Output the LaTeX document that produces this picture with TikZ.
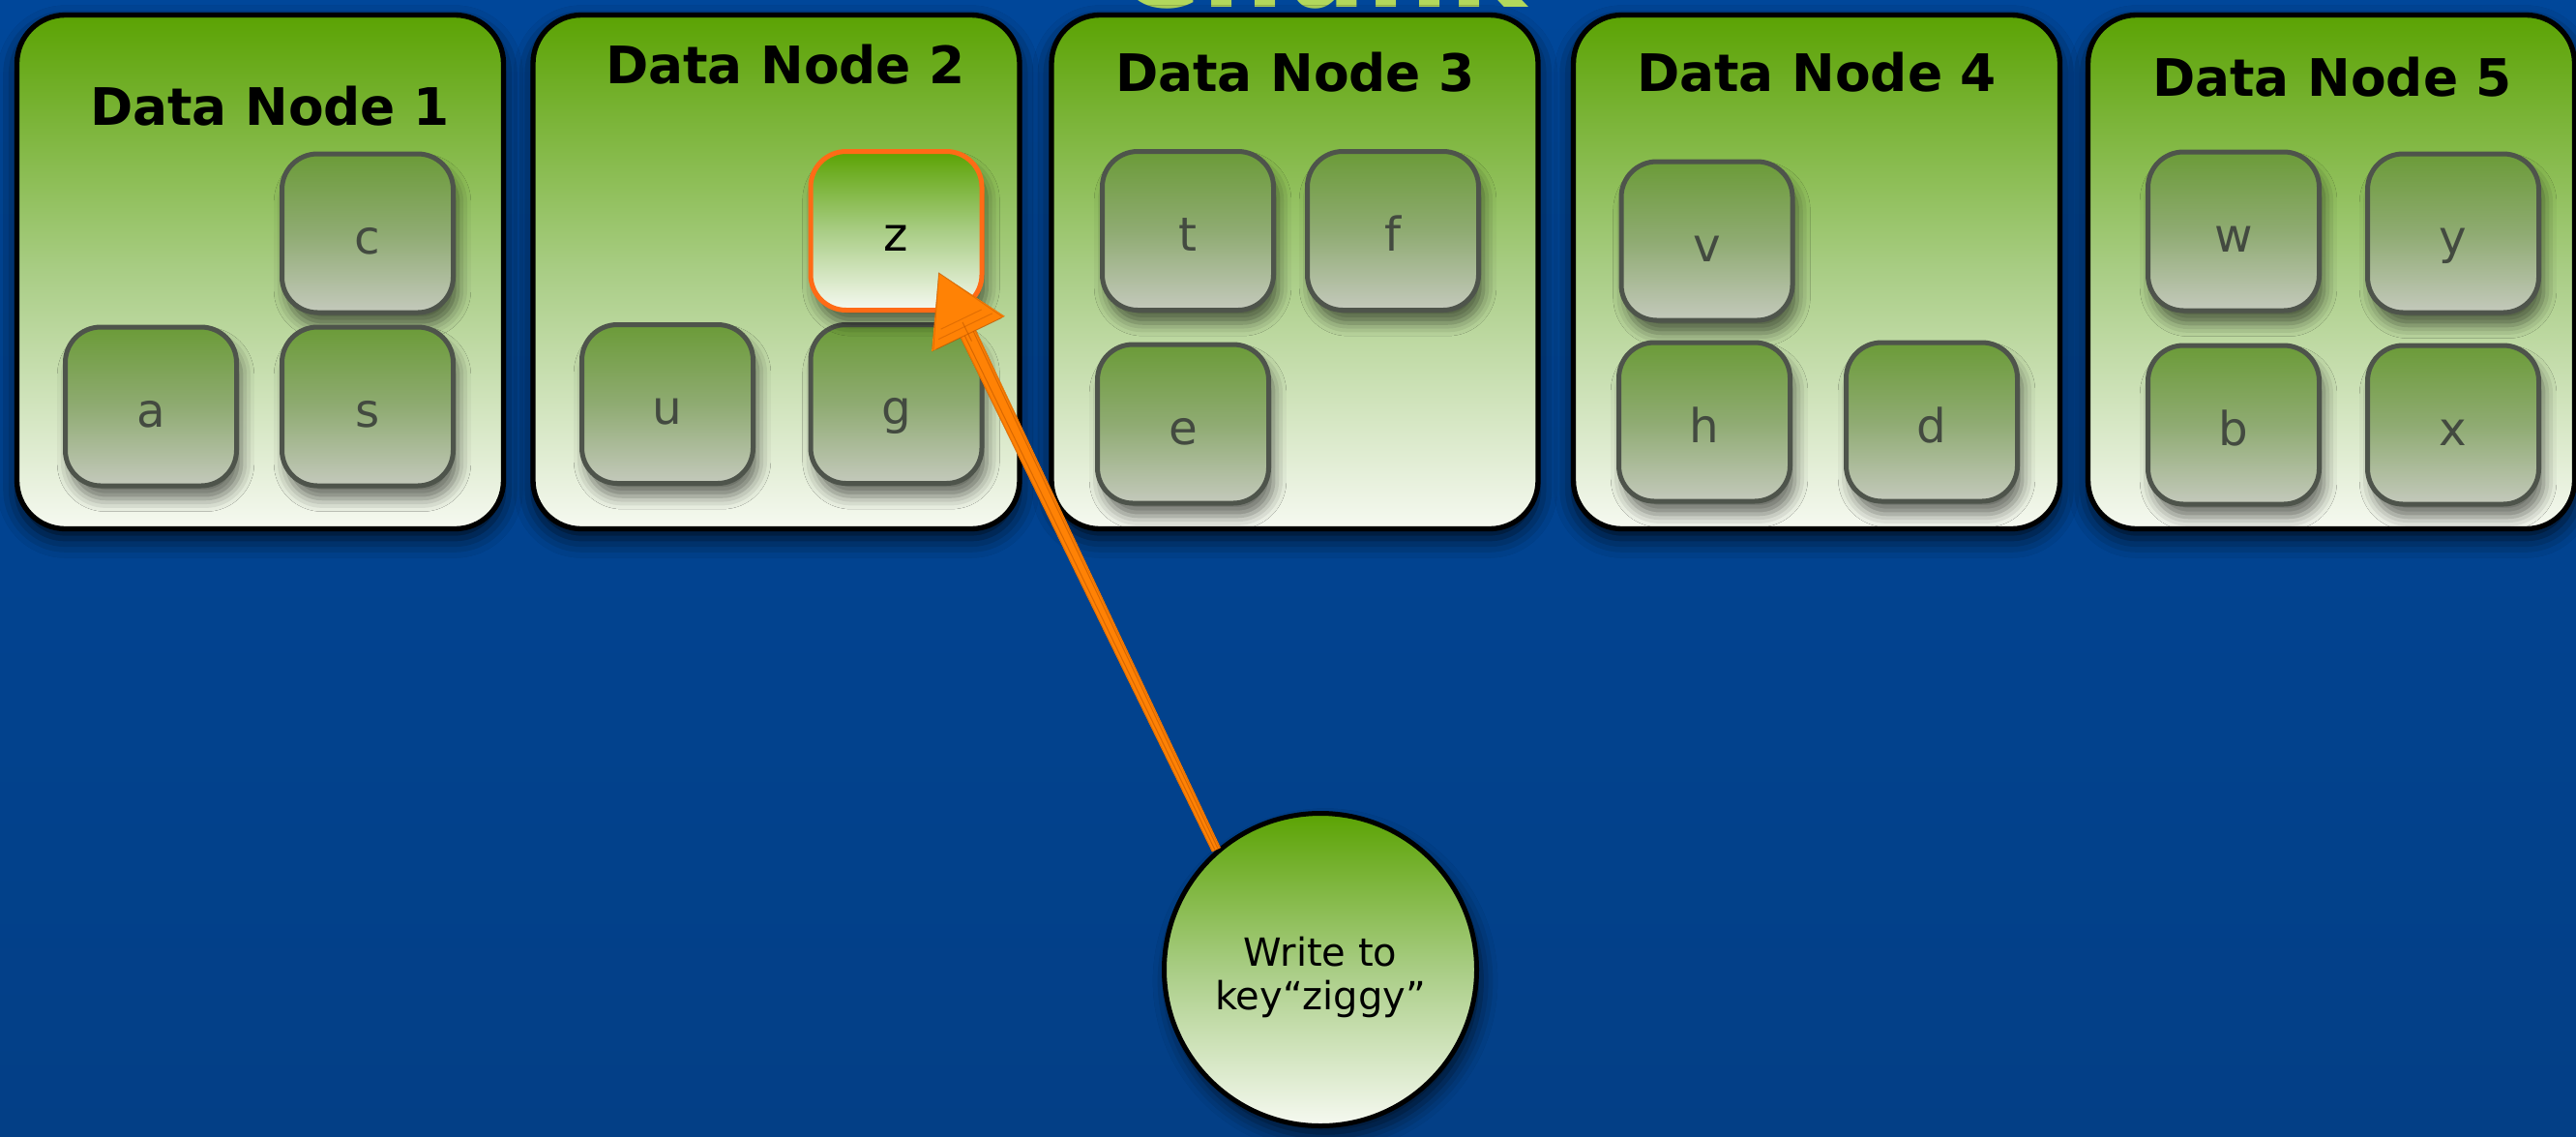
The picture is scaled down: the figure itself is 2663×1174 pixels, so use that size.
\documentclass[tikz,border=0pt]{standalone}
\usepackage{fontspec}
\setmainfont{DejaVu Sans}
\usetikzlibrary{calc,shadows.blur}

\definecolor{bgtop}{HTML}{00479A}
\definecolor{bgbot}{HTML}{033F86}
\definecolor{dngreen}{HTML}{5BA303}
\definecolor{dnmid}{HTML}{A9CD85}
\definecolor{dnwhite}{HTML}{F6F9F1}
\definecolor{keytop}{HTML}{6B9B38}
\definecolor{keymid}{HTML}{8FAB72}
\definecolor{keybot}{HTML}{C4C9BC}
\definecolor{keyline}{HTML}{4E544B}
\definecolor{keytext}{HTML}{434A40}
\definecolor{hot}{HTML}{FF6B16}
\definecolor{arrowc}{HTML}{FF8205}
\definecolor{arrowdark}{HTML}{B85200}
\definecolor{chunkc}{HTML}{B2D85C}

% outline of the hand-drawn arrow (shaft and head)
\newcommand\shaftoutline{%
  ($(tail)!1.5pt!90:(tip)$) -- ($(tail)!1.5pt!-90:(tip)$) --
  ($(hb)!2.7pt!-90:(tip)$) -- ($(hb)!12.6pt!-90:(tip)$) -- (tip) --
  ($(hb)!12.6pt!90:(tip)$) -- ($(hb)!2.7pt!90:(tip)$) -- cycle}

\begin{document}
\begin{tikzpicture}[x=0.3pt,y=-0.3pt,
  datanode/.style={draw=black, line width=1.6pt, rounded corners=15pt,
    minimum width=150.9pt, minimum height=159.3pt,
    top color=dngreen, bottom color=dnwhite, middle color=dnmid,
    blur shadow={shadow xshift=0pt, shadow yshift=-3pt,
      shadow blur radius=6pt, shadow opacity=80}},
  dntitle/.style={font=\bfseries\fontsize{16}{19}\selectfont, text=black},
  keybox/.style={draw=keyline, line width=1.5pt, rounded corners=11pt,
    minimum width=53.1pt, minimum height=49.2pt,
    text height=12.6pt, text depth=0pt,
    top color=keytop, bottom color=keybot, middle color=keymid,
    text=keytext, font=\fontsize{14.5}{17}\selectfont,
    blur shadow={shadow xshift=1.5pt, shadow yshift=-4pt,
      shadow blur radius=4pt, shadow opacity=55}},
  hotbox/.style={keybox, draw=hot, text=black,
    top color=dngreen, bottom color=dnwhite, middle color=dnmid},
  client/.style={circle, draw=black, line width=1.5pt, minimum size=96.9pt,
    top color=dngreen, bottom color=dnwhite, middle color=dnmid,
    blur shadow={shadow xshift=1.5pt, shadow yshift=-3.5pt,
      shadow blur radius=5pt, shadow opacity=65}},
  clienttext/.style={align=center, font=\fontsize{12}{13.5}\selectfont},
  sketch/.style={draw=arrowdark, line width=0.3pt, opacity=0.55}
]
\useasboundingbox (0,0) rectangle (2663,1174);

% backdrop
\shade[top color=bgtop, bottom color=bgbot] (0,0) rectangle (2663,1174);

% heading, mostly above the page edge
\node[anchor=base, text=chunkc, font=\bfseries\fontsize{36}{40}\selectfont]
  (chunk) at (1366,7) {Chunk};

% data nodes
\node[datanode] (dn1) at (269,281) {};
\node[datanode] (dn2) at (802.5,281) {};
\node[datanode] (dn3) at (1338.5,281) {};
\node[datanode] (dn4) at (1878,281) {};
\node[datanode] (dn5) at (2410,281) {};

\node[dntitle] (t1) at (279,110) {Data Node 1};
\node[dntitle] (t2) at (812,67) {Data Node 2};
\node[dntitle] (t3) at (1339,75) {Data Node 3};
\node[dntitle] (t4) at (1878,75) {Data Node 4};
\node[dntitle] (t5) at (2411,80) {Data Node 5};

% keys held by each data node
\node[keybox] (c) at (380,241) {c};
\node[keybox] (a) at (156,420) {a};
\node[keybox] (s) at (380,420) {s};

\node[keybox] (u) at (690,417.5) {u};
\node[keybox] (g) at (926.5,417.5) {g};
\node[hotbox] (z) at (926.5,238.5) {z};

\node[keybox] (t) at (1228,238.5) {t};
\node[keybox] (f) at (1440,238.5) {f};
\node[keybox] (e) at (1223,438) {e};

\node[keybox] (v) at (1764.5,249) {v};
\node[keybox] (h) at (1762,436) {h};
\node[keybox] (d) at (1997,436) {d};

\node[keybox] (w) at (2309,239) {w};
\node[keybox] (y) at (2536,241) {y};
\node[keybox] (b) at (2309,439) {b};
\node[keybox] (x) at (2536,439) {x};

% client request
\node[client] (write) at (1365,1002) {};
\node[clienttext] (writelabel) at ($(write.center)+(0,8)$) {Write to\\key“ziggy”};

% hand-drawn arrow from the request to key z
\coordinate (tip) at ($(z.south east)+(-47,-41)$);
\coordinate (tail) at (write.131);
\coordinate (hb) at ($(tip)!21pt!(tail)$);

% soft shadow under the arrow
\foreach \dx/\op in {5.5/0.07, 4.5/0.09, 3.5/0.11, 2.5/0.12}
  \fill[black, opacity=\op, shift={(\dx pt,-0.9*\dx pt)}] \shaftoutline;
\fill[arrowc] \shaftoutline;

% pen strokes over the fill
\draw[sketch] ($(tail)!0.4pt!90:(tip)$) -- ($(hb)!1.2pt!90:(tip)$);
\draw[sketch] ($(tail)!0.6pt!-90:(tip)$) -- ($(hb)!1.8pt!-90:(tip)$);
\draw[sketch, opacity=0.35] ($(tail)!1.3pt!90:(tip)$) -- ($(hb)!2.5pt!90:(tip)$);
\draw[sketch, opacity=0.35] ($(tail)!1.2pt!-90:(tip)$) -- ($(hb)!2.4pt!-90:(tip)$);
\draw[sketch] ($(hb)!11pt!90:(tip)$) -- ($(hb)!11.5pt!-90:(tip)$);
\draw[sketch] ($(hb)!-2.5pt!0:(tip)$) -- ($(hb)!4pt!0:(tip)$);
\draw[sketch, opacity=0.4] ($(hb)!12pt!90:(tip)$) -- (tip) -- ($(hb)!12pt!-90:(tip)$);
\draw[sketch, opacity=0.4] ($($(hb)!5pt!(tip)$)!7pt!90:(tip)$) -- ($($(hb)!5pt!(tip)$)!7pt!-90:(tip)$);
\draw[sketch, opacity=0.4] ($($(hb)!2.5pt!(tip)$)!9pt!90:(tip)$) -- ($($(hb)!2.5pt!(tip)$)!9.5pt!-90:(tip)$);
\end{tikzpicture}
\end{document}
